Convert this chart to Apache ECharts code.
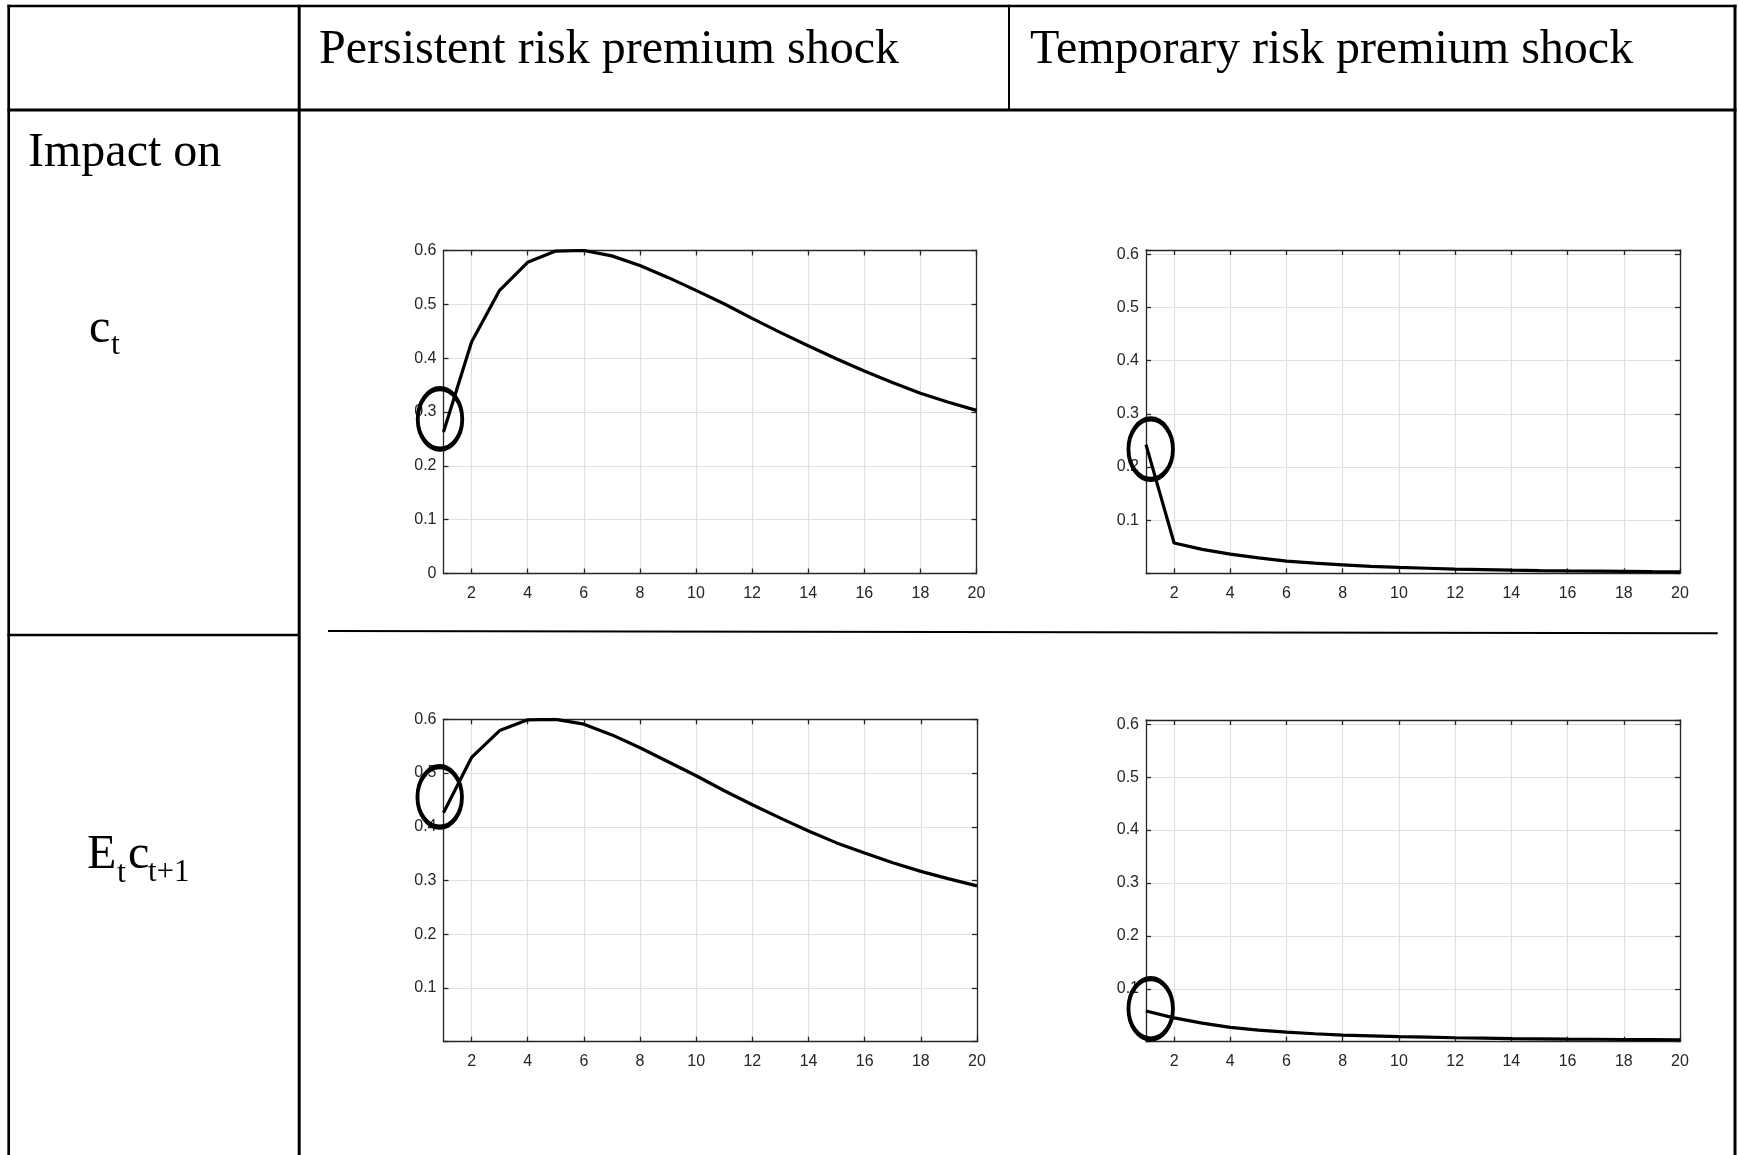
<!DOCTYPE html>
<html><head><meta charset="utf-8">
<script src="https://cdn.jsdelivr.net/npm/echarts@6/dist/echarts.min.js"></script>
<style>html,body{margin:0;padding:0;background:#fff}#c{width:1739px;height:1155px}</style>
</head><body><div id="c"></div>
<script>
// ---- data ----
const periods = [1,2,3,4,5,6,7,8,9,10,11,12,13,14,15,16,17,18,19,20];
const persistentCt = [0.263,0.430,0.526,0.578,0.599,0.600,0.590,0.572,0.550,0.526,0.501,0.474,0.448,0.423,0.399,0.376,0.355,0.335,0.318,0.303];
const temporaryCt = [0.242,0.057,0.045,0.036,0.029,0.023,0.019,0.016,0.013,0.011,0.0095,0.008,0.007,0.006,0.0052,0.0045,0.004,0.0035,0.003,0.0027];
const persistentEtCt1 = [0.426,0.529,0.579,0.599,0.600,0.591,0.571,0.547,0.521,0.495,0.467,0.441,0.416,0.392,0.370,0.351,0.333,0.317,0.303,0.290];
const temporaryEtCt1 = [0.058,0.045,0.035,0.027,0.022,0.018,0.015,0.0125,0.011,0.0095,0.0085,0.0075,0.0068,0.006,0.0055,0.005,0.0046,0.0042,0.004,0.0037];
const xTickLabels = ['2','4','6','8','10','12','14','16','18','20'];
const yTickLabels = ['0','0.1','0.2','0.3','0.4','0.5','0.6'];
const columnTitles = ['Persistent risk premium shock','Temporary risk premium shock'];
const rowHeader = 'Impact on';

// ---- layout ----
const panels = [
  {data: persistentCt,    grid:{left:443.5, top:250.5, width:533,   height:323},   yMax:0.6,   showZero:true,  ring:[-3.5,-13]},
  {data: temporaryCt,     grid:{left:1146,  top:250,   width:534,   height:323.3}, yMax:0.608, showZero:false, ring:[4.7,4.6]},
  {data: persistentEtCt1, grid:{left:443.5, top:719.3, width:533.5, height:322.4}, yMax:0.6,   showZero:false, ring:[-3.8,-15.8]},
  {data: temporaryEtCt1,  grid:{left:1146,  top:720,   width:534,   height:321.7}, yMax:0.608, showZero:false, ring:[4.7,-2.2]}
];
const cats = periods.map(String);
const AX = '#262626';
const TICKFONT = "'Liberation Sans Narrow','Arial Narrow','Liberation Sans',Arial,sans-serif";
const SERIF = "'Liberation Serif','Times New Roman',serif";
const isShownX = (i, v) => xTickLabels.indexOf(String(v)) >= 0;

const grids = [], xAxes = [], yAxes = [], series = [];
panels.forEach((p, k) => {
  grids.push(Object.assign({containLabel:false}, p.grid));
  xAxes.push({type:'category', gridIndex:k, data:cats, boundaryGap:false, position:'bottom',
    axisLine:{onZero:false, lineStyle:{color:AX, width:1.3}},
    axisTick:{inside:true, length:5, interval:isShownX, lineStyle:{color:AX, width:1.3}},
    axisLabel:{interval:isShownX, margin:12, color:AX, fontSize:16, fontFamily:TICKFONT},
    splitLine:{show:true, interval:isShownX, lineStyle:{color:'#e0e0e0', width:1.2}}});
  xAxes.push({type:'category', gridIndex:k, data:cats, boundaryGap:false, position:'top',
    axisLine:{onZero:false, lineStyle:{color:AX, width:1.3}},
    axisTick:{inside:true, length:5, interval:isShownX, lineStyle:{color:AX, width:1.3}},
    axisLabel:{show:false}, splitLine:{show:false}});
  const fmt = v => {
    const r = Math.round(v*10)/10;
    if (Math.abs(v - r) > 1e-6) return '';
    const s = String(r);
    if (yTickLabels.indexOf(s) < 0) return '';
    if (r === 0 && !p.showZero) return '';
    return s;
  };
  yAxes.push({type:'value', gridIndex:k, min:0, max:p.yMax, interval:0.1, position:'left',
    axisLine:{show:true, onZero:false, lineStyle:{color:AX, width:1.3}},
    axisTick:{show:true, inside:true, length:5, lineStyle:{color:AX, width:1.3}},
    axisLabel:{formatter:fmt, margin:7, color:AX, fontSize:16, fontFamily:TICKFONT, showMaxLabel:true, showMinLabel:true},
    splitLine:{show:true, lineStyle:{color:'#e0e0e0', width:1.2}}});
  yAxes.push({type:'value', gridIndex:k, min:0, max:p.yMax, interval:0.1, position:'right',
    axisLine:{show:true, onZero:false, lineStyle:{color:AX, width:1.3}},
    axisTick:{show:true, inside:true, length:5, lineStyle:{color:AX, width:1.3}},
    axisLabel:{show:false}, splitLine:{show:false}});
  series.push({type:'line', xAxisIndex:2*k, yAxisIndex:2*k, data:p.data, symbol:'none', smooth:false,
    lineStyle:{color:'#000', width:3.2}, z:5,
    markPoint:{symbol:'circle', symbolSize:[44.5,60.5], symbolOffset:p.ring, silent:true,
      itemStyle:{color:'rgba(0,0,0,0)', borderColor:'#000', borderWidth:4.5},
      label:{show:false}, data:[{coord:[cats[0], p.data[0]]}]}});
});

// ---- table frame & texts ----
const ln = (x1,y1,x2,y2,w) => ({type:'line', shape:{x1,y1,x2,y2}, style:{stroke:'#000', lineWidth:w}, silent:true, z:10});
const txt = (s, x, baseline, fs) => ({type:'text', x, y: baseline - 0.3375*fs,
  style:{text:s, font: fs + 'px ' + SERIF, fill:'#000', textAlign:'left', textVerticalAlign:'middle'}, silent:true, z:10});
const graphic = [
  ln(7.5,6,1736.5,6,2.7),
  ln(8.7,4.7,8.7,1155,2.7),
  ln(1735,4.7,1735,1155,3),
  ln(7.5,110,1736.5,110,3),
  ln(299.2,4.7,299.2,1155,3),
  ln(1009,4.7,1009,110,2),
  ln(7.5,635,299.2,635,2.7),
  ln(328,631,1717.7,633.3,2),
  txt(columnTitles[0], 319, 66.2, 48),
  txt(columnTitles[1], 1030, 66.2, 48),
  txt(rowHeader, 28, 170, 48),
  txt('c', 89, 345.5, 48),
  txt('t', 111, 356, 32),
  txt('E', 87, 872, 48),
  txt('t', 117, 884, 32),
  txt('c', 128, 872, 48),
  txt('t+1', 148, 883, 31)
];

const chart = echarts.init(document.getElementById('c'), null, {renderer:'canvas'});
chart.setOption({animation:false, backgroundColor:'#fff', grid:grids, xAxis:xAxes, yAxis:yAxes, series, graphic});
</script></body></html>
